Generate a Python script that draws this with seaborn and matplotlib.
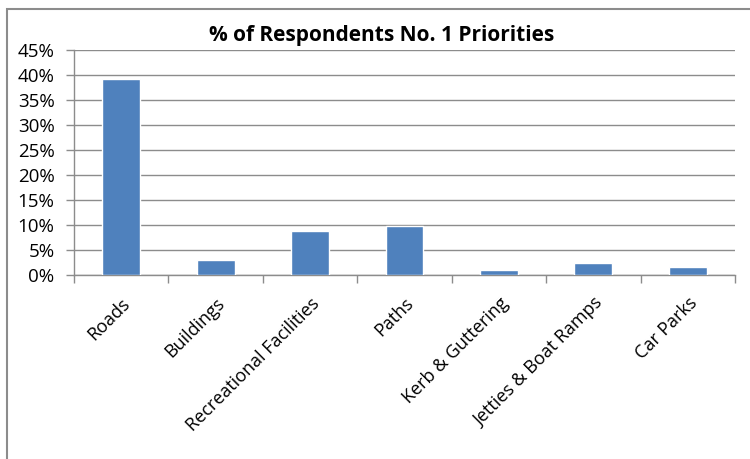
import matplotlib
matplotlib.use("Agg")
import matplotlib.pyplot as plt
import seaborn as sns
import pandas as pd
import numpy as np
from matplotlib.ticker import FixedLocator, FuncFormatter
from matplotlib.patches import Rectangle

categories = ["Roads", "Buildings", "Recreational Facilities", "Paths",
              "Kerb & Guttering", "Jetties & Boat Ramps", "Car Parks"]
values = [39.3, 3.1, 8.8, 9.9, 1.1, 2.5, 1.7]
y_ticks = [0, 5, 10, 15, 20, 25, 30, 35, 40, 45]
title = "% of Respondents No. 1 Priorities"

sns.set_theme(style="white")
plt.rcParams['font.family'] = ['Open Sans', 'DejaVu Sans']

df = pd.DataFrame({"cat": categories, "val": values})

fig = plt.figure(figsize=(7.5, 4.59), dpi=100)
ax = fig.add_axes([74/750, 1 - 275/459, (735-74)/750, (275-50)/459])

sns.barplot(data=df, x="cat", y="val", color="#4F81BD", saturation=1,
            width=0.4, ax=ax, zorder=3)

ax.set_ylim(0, 45)
ax.set_xlim(-0.5, len(categories) - 0.5)
ax.yaxis.set_major_locator(FixedLocator(y_ticks))
ax.yaxis.set_major_formatter(FuncFormatter(lambda v, p: f"{int(v)}%"))
ax.grid(axis="y", color="#8c8c8c", linewidth=1, zorder=0)
ax.set_axisbelow(True)
ax.set_xlabel("")
ax.set_ylabel("")

for s in ["top", "right"]:
    ax.spines[s].set_visible(False)
for s in ["left", "bottom"]:
    ax.spines[s].set_color("#8c8c8c")
    ax.spines[s].set_linewidth(1)

ax.tick_params(axis="y", which="major", left=True, length=6, width=1,
               color="#8c8c8c", labelsize=13.5, pad=8, labelcolor="black")
ax.set_xticks(range(len(categories)))
ax.set_xticklabels(categories, rotation=45, ha="right",
                   rotation_mode="anchor", fontsize=13, color="black")
ax.tick_params(axis="x", which="major", bottom=False, pad=8)
ax.set_xticks(np.arange(-0.5, len(categories)), minor=True)
ax.tick_params(axis="x", which="minor", bottom=True, length=6, width=1,
               color="#8c8c8c")

fig.text(382/750, 1 - 35/459, title, ha="center", va="center",
         fontsize=15, fontweight="bold", color="black")

fig.patches.append(Rectangle((7/750, -0.1), 1.2, 1 - 9/459 + 0.1,
                             transform=fig.transFigure, fill=False,
                             edgecolor="#8c8c8c", linewidth=1.5))

fig.savefig("out.png", dpi=100)
